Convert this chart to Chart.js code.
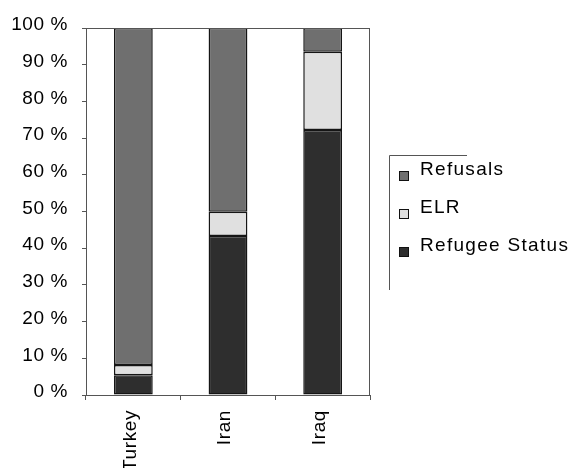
<!DOCTYPE html>
<html>
<head>
<meta charset="utf-8">
<script src="https://cdn.jsdelivr.net/npm/chart.js@4/dist/chart.umd.min.js"></script>
<style>
  html, body { margin: 0; padding: 0; background: #fff; }
  canvas { display: block; }
</style>
</head>
<body>
<canvas id="chart" width="574" height="468"></canvas>
<script>
// Share of decisions by outcome, per country of origin (percent)
const categories = ['Turkey', 'Iran', 'Iraq'];
const refugeeStatus = [5.4, 43.3, 72.2];
const elr = [2.8, 6.6, 21.3];
const refusals = [91.8, 50.1, 6.5];
const yTickValues = [0, 10, 20, 30, 40, 50, 60, 70, 80, 90, 100];

const FONT = 'Arial, "Liberation Sans", sans-serif';
const AXIS_SPACING = '0.6px';
const LEGEND_SPACING = '1.3px';

function setSpacing(chart) {
  chart.ctx.letterSpacing = AXIS_SPACING;
}

// Plot frame and a right-hand legend box
const frameAndLegend = {
  id: 'frameAndLegend',
  beforeUpdate: setSpacing,
  beforeLayout: setSpacing,
  beforeDraw: setSpacing,
  afterDatasetsDraw(chart) {
    const { ctx, chartArea: a } = chart;
    ctx.save();
    ctx.strokeStyle = '#555';
    ctx.lineWidth = 1;
    ctx.strokeRect(a.left + 0.5, a.top + 0.5, a.right - a.left - 1, a.bottom - a.top);
    ctx.restore();
  },
  afterDraw(chart) {
    const ctx = chart.ctx;
    ctx.save();
    ctx.letterSpacing = LEGEND_SPACING;
    // partial legend frame
    ctx.strokeStyle = '#555';
    ctx.lineWidth = 1;
    ctx.beginPath();
    ctx.moveTo(467, 155.5);
    ctx.lineTo(389.5, 155.5);
    ctx.lineTo(389.5, 290);
    ctx.stroke();

    const ds = chart.data.datasets.slice().reverse();
    ctx.font = '19px ' + FONT;
    ctx.textBaseline = 'middle';
    ctx.textAlign = 'left';
    ds.forEach((d, i) => {
      const cy = 170 + i * 38;
      ctx.fillStyle = d.backgroundColor;
      ctx.fillRect(399, cy + 1, 10, 10);
      ctx.strokeStyle = '#111';
      ctx.lineWidth = 1;
      ctx.strokeRect(399.5, cy + 1.5, 9, 9);
      ctx.fillStyle = '#000';
      ctx.fillText(d.label, 420, cy);
    });
    ctx.restore();
  }
};

const barStyle = {
  borderColor: '#151515',
  borderWidth: 1.5,
  borderSkipped: false,
  barPercentage: 0.41,
  categoryPercentage: 1.0
};

new Chart(document.getElementById('chart'), {
  type: 'bar',
  data: {
    labels: categories,
    datasets: [
      Object.assign({ label: 'Refugee Status', data: refugeeStatus, backgroundColor: '#2e2e2e' }, barStyle),
      Object.assign({ label: 'ELR', data: elr, backgroundColor: '#e0e0e0' }, barStyle),
      Object.assign({ label: 'Refusals', data: refusals, backgroundColor: '#6f6f6f' }, barStyle)
    ]
  },
  options: {
    responsive: false,
    devicePixelRatio: 1,
    animation: false,
    layout: { padding: { left: 0, top: 28, right: 204, bottom: 0 } },
    plugins: {
      legend: { display: false },
      tooltip: { enabled: false }
    },
    scales: {
      x: {
        stacked: true,
        grid: { drawOnChartArea: false, offset: true, tickLength: 5, color: '#555' },
        border: { color: '#555' },
        ticks: {
          minRotation: 90,
          maxRotation: 90,
          autoSkip: false,
          padding: 10,
          labelOffset: -3,
          color: '#000',
          font: { family: FONT, size: 19 }
        },
        afterFit(scale) { scale.height = 73; }
      },
      y: {
        stacked: true,
        min: 0,
        max: 100,
        afterBuildTicks(scale) { scale.ticks = yTickValues.map(v => ({ value: v })); },
        grid: { drawOnChartArea: false, tickLength: 4, color: '#555' },
        border: { color: '#555' },
        ticks: {
          padding: 14,
          labelOffset: -3,
          color: '#000',
          font: { family: FONT, size: 19 },
          callback: v => v + ' %'
        },
        afterFit(scale) { scale.width = 86; }
      }
    }
  },
  plugins: [frameAndLegend]
});
</script>
</body>
</html>
